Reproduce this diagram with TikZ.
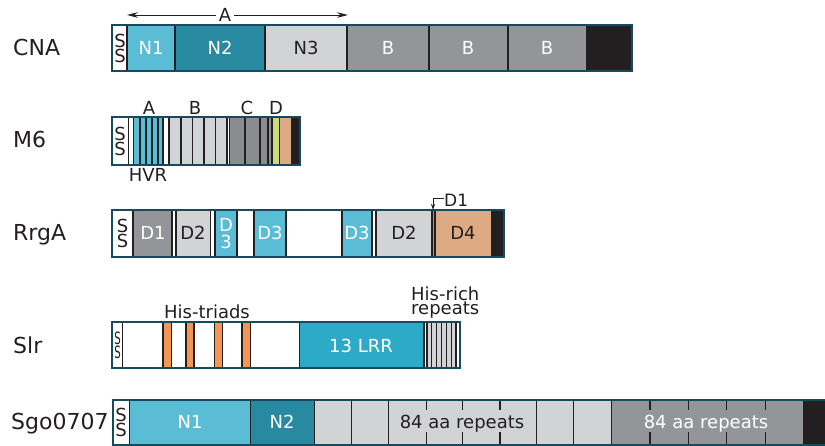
\documentclass[tikz,border=0pt]{standalone}
\usepackage{graphicx}
\usepackage{fontspec}
\setmainfont{DejaVu Sans}
\usetikzlibrary{arrows.meta}

\definecolor{ink}{RGB}{35,31,32}
\definecolor{frm}{RGB}{22,74,94}
\definecolor{lblue}{RGB}{91,188,214}
\definecolor{teal}{RGB}{40,138,160}
\definecolor{lrr}{RGB}{45,170,200}
\definecolor{lgray}{RGB}{209,211,212}
\definecolor{mgray}{RGB}{147,149,152}
\definecolor{dgray}{RGB}{138,140,143}
\definecolor{orng}{RGB}{247,150,82}
\definecolor{tan}{RGB}{222,170,132}
\definecolor{ygreen}{RGB}{200,220,120}

% vertical extent of the bar currently being drawn
\def\rowtop{0}
\def\rowbot{0}
% filled segment from x=#1 to x=#2
\newcommand\seg[3]{\fill[#3] (#1,\rowtop) rectangle (#2,\rowbot);}
% full-height divider
\newcommand\divl[1]{\draw[divider] (#1,\rowtop) -- (#1,\rowbot);}
% short ticks at top and bottom
\newcommand\tick[1]{\draw[divider] (#1,\rowtop) -- (#1,\rowtop+10);
  \draw[divider] (#1,\rowbot-13) -- (#1,\rowbot);}
% outer frame of a bar
\newcommand\barframe[2]{\draw[frame] (#1,\rowtop) rectangle (#2,\rowbot);}
% horizontally squeezed letter
\newcommand\narrowS{\scalebox{0.6}[1]{S}}

\begin{document}
\begin{tikzpicture}[x=1pt,y=-1pt,
  lbl/.style={font=\fontsize{18}{18}\selectfont, inner sep=0pt, text height=13pt, text depth=0pt},
  wlbl/.style={lbl, text=white},
  dlbl/.style={lbl, text=ink},
  sslbl/.style={font=\fontsize{18}{15}\selectfont, inner sep=0pt, align=center, text=ink},
  rowname/.style={font=\fontsize{22}{22}\selectfont, anchor=west, inner sep=0pt,
    text height=15.5pt, text depth=0pt, text=ink},
  divider/.style={draw=ink, line width=1.1pt},
  frame/.style={draw=frm, line width=2pt},
  spanhead/.tip={Stealth[length=11pt,width=5.5pt]}]

\useasboundingbox (0,0) rectangle (825,446);

% ---------------- row names ----------------
\node[rowname] (nCNA) at (13,48) {CNA};
\node[rowname] (nM6) at (13,140) {M6};
\node[rowname] (nRrgA) at (13,233) {RrgA};
\node[rowname] (nSlr) at (13,346) {Slr};
\node[rowname] (nSgo) at (11,422) {Sgo0707};

% ---------------- CNA ----------------
\def\rowtop{25}\def\rowbot{71}
\seg{112}{127}{white}
\seg{127}{175}{lblue}
\seg{175}{265}{teal}
\seg{265}{347}{lgray}
\seg{347}{587}{mgray}
\seg{587}{632}{ink}
\divl{127}\divl{175}\divl{265}\divl{347}\divl{429}\divl{508}\divl{587}
\barframe{112}{632}
\node[sslbl] (cnaSS) at (120,48) {S\\S};
\node[wlbl] (cnaN1) at (151,48) {N1};
\node[wlbl] (cnaN2) at (220,48) {N2};
\node[dlbl] (cnaN3) at (306,48) {N3};
\node[wlbl] (cnaB1) at (388,48) {B};
\node[wlbl] (cnaB2) at (468,48) {B};
\node[wlbl] (cnaB3) at (547,48) {B};
% span of region A
\coordinate (aL) at (127,15);
\coordinate (aR) at (348,15);
\draw[spanhead-spanhead, line width=0.9pt, draw=ink] (aL) -- (aR);
\node[dlbl, fill=white, inner xsep=3pt] (cnaA) at (225,15) {A};

% ---------------- M6 ----------------
\def\rowtop{117}\def\rowbot{165}
\seg{112}{168}{white}
\seg{134}{163}{lblue}
\seg{168}{227}{lgray}
\seg{229.5}{272}{dgray}
\seg{273}{278.5}{ygreen}
\seg{280}{291}{tan}
\seg{291}{300}{ink}
\foreach \x in {128.5,133.5,140,146,152,158,163,169,181,192.5,204,215.5,227,229.5,245,260,268,272,279.5}{\divl{\x}}
\barframe{112}{300}
\node[sslbl] (m6SS) at (120,141) {S\\S};
\node[dlbl] (m6A) at (149,108) {A};
\node[dlbl] (m6B) at (195,108) {B};
\node[dlbl] (m6C) at (247,108) {C};
\node[dlbl] (m6D) at (276,108) {D};
\node[dlbl] (m6HVR) at (148,175) {HVR};

% ---------------- RrgA ----------------
\def\rowtop{210}\def\rowbot{257}
\seg{112}{504}{white}
\seg{133}{172}{mgray}
\seg{176}{210.5}{lgray}
\seg{215}{237}{lblue}
\seg{254}{286}{lblue}
\seg{342}{372}{lblue}
\seg{376}{432}{lgray}
\seg{432}{435}{mgray}
\seg{435}{492}{tan}
\seg{492}{504}{ink}
\foreach \x in {133,172,176,210.5,215,237,254,286,342,372,376,432,435,492}{\divl{\x}}
\barframe{112}{504}
\node[sslbl] (rrSS) at (122.5,233.5) {S\\S};
\node[wlbl] (rrD1) at (153,233) {D1};
\node[dlbl] (rrD2a) at (193,233) {D2};
\node[sslbl, text=white, font=\fontsize{18}{17}\selectfont] (rrD3a) at (226,234) {D\\3};
\node[wlbl] (rrD3b) at (270,233) {D3};
\node[wlbl] (rrD3c) at (357,233) {D3};
\node[dlbl] (rrD2b) at (404,233) {D2};
\node[dlbl] (rrD4) at (463,233) {D4};
% pointer to the short D1 repeat
\node[font=\fontsize{17}{17}\selectfont, inner sep=0pt, text height=12pt, text depth=0pt, text=ink, anchor=west] (rrD1b) at (444,201) {D1};
\coordinate (d1turn) at (433,198.5);
\coordinate (d1end) at (433,210);
\draw[line width=0.8pt, draw=ink, -{Stealth[length=6pt,width=4pt]}] (rrD1b.west |- d1turn) -- (d1turn) -- (d1end);

% ---------------- Slr ----------------
\def\rowtop{322}\def\rowbot{368}
\seg{112}{460}{white}
\seg{163}{171.5}{orng}
\seg{186}{194}{orng}
\seg{214.5}{222.5}{orng}
\seg{242}{250.5}{orng}
\seg{299.5}{424}{lrr}
\seg{427}{456}{lgray}
\foreach \x in {122.7,163,171.5,186,194,214.5,222.5,242,250.5,299.5,424,427,431.7,436.7,441.7,446.7,451.7,456}{\divl{\x}}
\barframe{112}{460}
\node[sslbl, font=\fontsize{17}{14}\selectfont] (slrSS) at (117.5,345.5) {\narrowS\\\narrowS};
\node[wlbl] (slrLRR) at (361,346) {13 LRR};
\node[dlbl, text depth=4pt] (slrHis) at (207,314) {His-triads};
\node[font=\fontsize{18}{12}\selectfont, inner sep=0pt, align=left, text=ink, anchor=north west] (slrRich) at (411,287) {His-rich\\repeats};

% ---------------- Sgo0707 ----------------
\def\rowtop{400}\def\rowbot{445}
\seg{112.5}{129.3}{white}
\seg{129.3}{250.7}{lblue}
\seg{250.7}{314.3}{teal}
\seg{314.3}{611.7}{lgray}
\seg{611.7}{804}{mgray}
\seg{804}{830}{ink}
\foreach \x in {129.3,250.7,314.3,351.7,388.3,536.7,573.3,611.7,804}{\divl{\x}}
\foreach \x in {426.7,462.7,500,650,688.3,726.7,765.7}{\tick{\x}}
\draw[frame] (830,\rowtop) -- (112.5,\rowtop) -- (112.5,\rowbot) -- (830,\rowbot);
\node[sslbl] (sgoSS) at (121,422.5) {S\\S};
\node[wlbl] (sgoN1) at (190,422) {N1};
\node[wlbl] (sgoN2) at (282,422) {N2};
\node[dlbl, fill=lgray, inner xsep=1pt] (sgoRep1) at (462,422) {84 aa repeats};
\node[wlbl, fill=mgray, inner xsep=1pt] (sgoRep2) at (706,422) {84 aa repeats};

\end{tikzpicture}
\end{document}
